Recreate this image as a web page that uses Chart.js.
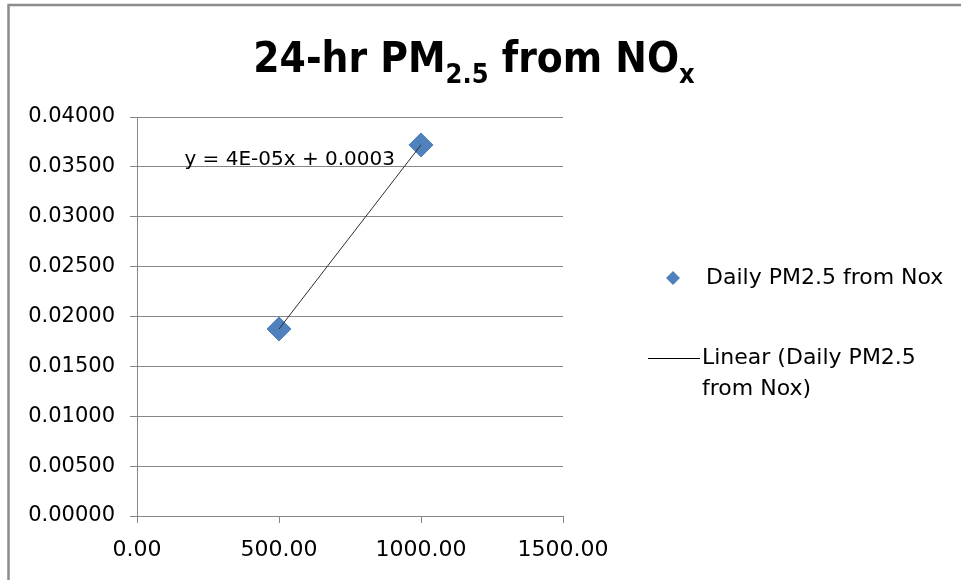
<!DOCTYPE html>
<html>
<head>
<meta charset="utf-8">
<script src="https://cdn.jsdelivr.net/npm/chart.js@4.4.1/dist/chart.umd.min.js"></script>
<style>
  html, body { margin: 0; padding: 0; background: #ffffff; }
  #wrap { position: relative; width: 961px; height: 580px; }
</style>
</head>
<body>
<div id="wrap"><canvas id="c" width="961" height="580"></canvas></div>
<script>
// ---- data ----
const seriesName = 'Daily PM2.5 from Nox';
const trendName = 'Linear (Daily PM2.5 from Nox)';
const noxValues = [500, 1000];
const pm25Values = [0.01875, 0.03720];
const equationText = 'y = 4E-05x + 0.0003';
const xTicks = [0, 500, 1000, 1500];
const yTicks = [0, 0.005, 0.01, 0.015, 0.02, 0.025, 0.03, 0.035, 0.04];

const points = noxValues.map((x, i) => ({ x: x, y: pm25Values[i] }));

const FONT = "'DejaVu Sans', sans-serif";
const GRID = '#868686';
const BLUE = '#4F81BD';

const framePlugin = {
  id: 'frame',
  beforeDraw(chart) {
    const ctx = chart.ctx;
    ctx.save();
    ctx.fillStyle = '#ffffff';
    ctx.fillRect(0, 0, chart.width, chart.height);
    ctx.strokeStyle = '#8c8c8c';
    ctx.lineWidth = 2.5;
    ctx.beginPath();
    ctx.moveTo(8.5, chart.height + 5);
    ctx.lineTo(8.5, 5);
    ctx.lineTo(chart.width + 5, 5);
    ctx.stroke();
    ctx.restore();
  }
};

const titlePlugin = {
  id: 'subTitle',
  afterDraw(chart) {
    const ctx = chart.ctx;
    const parts = [
      { t: '24-hr PM', sub: false },
      { t: '2.5', sub: true },
      { t: ' from NO', sub: false },
      { t: 'x', sub: true }
    ];
    const big = 42, small = 27;
    const fam = "'DejaVu Sans Condensed', 'DejaVu Sans', sans-serif";
    ctx.save();
    ctx.fillStyle = '#000';
    ctx.textBaseline = 'alphabetic';
    let total = 0;
    parts.forEach(p => {
      ctx.font = 'bold ' + (p.sub ? small : big) + 'px ' + fam;
      p.w = ctx.measureText(p.t).width;
      total += p.w;
    });
    let x = 474 - total / 2;
    const base = 72;
    parts.forEach(p => {
      ctx.font = 'bold ' + (p.sub ? small : big) + 'px ' + fam;
      ctx.fillText(p.t, x, p.sub ? base + 11 : base);
      x += p.w;
    });
    ctx.restore();
  }
};

const annotPlugin = {
  id: 'annot',
  afterDatasetsDraw(chart) {
    const ctx = chart.ctx;
    const xs = chart.scales.x, ys = chart.scales.y;
    ctx.save();
    // trendline equation
    ctx.font = '20px ' + FONT;
    ctx.fillStyle = '#000';
    ctx.textAlign = 'right';
    ctx.textBaseline = 'middle';
    ctx.fillText(equationText, xs.getPixelForValue(noxValues[1]) - 26, ys.getPixelForValue(0.0357));

    // legend
    const ca = chart.chartArea;
    const lx = ca.right + 110;
    const ly1 = 278;
    const d = 7;
    ctx.fillStyle = BLUE;
    ctx.beginPath();
    ctx.moveTo(lx, ly1 - d);
    ctx.lineTo(lx + d, ly1);
    ctx.lineTo(lx, ly1 + d);
    ctx.lineTo(lx - d, ly1);
    ctx.closePath();
    ctx.fill();
    ctx.font = '22px ' + FONT;
    ctx.fillStyle = '#000';
    ctx.textAlign = 'left';
    ctx.fillText(chart.data.datasets[1].label, lx + 33, ly1);

    const ly2 = 358;
    ctx.strokeStyle = '#000';
    ctx.lineWidth = 1;
    ctx.beginPath();
    ctx.moveTo(lx - 25, ly2 + 0.5);
    ctx.lineTo(lx + 27, ly2 + 0.5);
    ctx.stroke();
    const lbl = chart.data.datasets[0].label;
    const cut = lbl.indexOf(' from');
    ctx.fillText(lbl.slice(0, cut), lx + 29, ly2);
    ctx.fillText(lbl.slice(cut + 1), lx + 29, ly2 + 31);
    ctx.restore();
  }
};

new Chart(document.getElementById('c'), {
  type: 'scatter',
  data: {
    datasets: [
      {
        label: trendName,
        data: points,
        showLine: true,
        borderColor: '#2e2e2e',
        borderWidth: 1,
        pointRadius: 0,
        fill: false,
        order: 0
      },
      {
        label: seriesName,
        data: points,
        pointStyle: 'rectRot',
        pointRadius: 12,
        pointBackgroundColor: BLUE,
        pointBorderColor: BLUE,
        pointBorderWidth: 1,
        showLine: false,
        order: 1
      }
    ]
  },
  options: {
    responsive: false,
    animation: false,
    devicePixelRatio: 1,
    layout: { padding: { left: 0, top: 117, right: 398, bottom: 0 } },
    plugins: {
      legend: { display: false },
      title: { display: false },
      tooltip: { enabled: false }
    },
    scales: {
      x: {
        type: 'linear',
        min: xTicks[0],
        max: xTicks[xTicks.length - 1],
        afterBuildTicks(s) { s.ticks = xTicks.map(v => ({ value: v })); },
        afterFit(s) { s.height = 64; s.paddingLeft = 0; s.paddingRight = 0; },
        grid: {
          drawOnChartArea: false,
          drawTicks: true,
          tickLength: 7,
          color: GRID,
          lineWidth: 1
        },
        border: { display: true, color: GRID, width: 1 },
        ticks: {
          padding: 14,
          color: '#000',
          font: { family: FONT, size: 22 },
          callback: v => Number(v).toFixed(2)
        }
      },
      y: {
        type: 'linear',
        min: yTicks[0],
        max: yTicks[yTicks.length - 1],
        afterBuildTicks(s) { s.ticks = yTicks.map(v => ({ value: v })); },
        afterFit(s) { s.width = 137; s.paddingTop = 0; s.paddingBottom = 0; },
        grid: {
          drawOnChartArea: true,
          drawTicks: true,
          tickLength: 7,
          color: GRID,
          lineWidth: 1
        },
        border: { display: true, color: GRID, width: 1 },
        ticks: {
          padding: 15,
          color: '#000',
          font: { family: FONT, size: 21 },
          callback: v => Number(v).toFixed(5)
        }
      }
    }
  },
  plugins: [framePlugin, titlePlugin, annotPlugin]
});
</script>
</body>
</html>
